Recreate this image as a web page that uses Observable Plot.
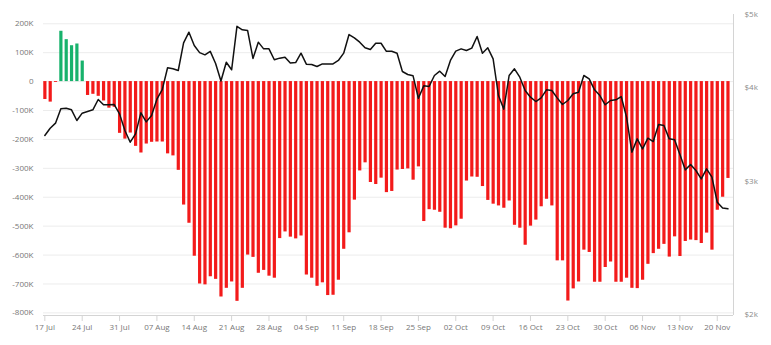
<!DOCTYPE html>
<html>
<head>
<meta charset="utf-8">
<script src="https://cdn.jsdelivr.net/npm/d3@7"></script>
<script src="https://cdn.jsdelivr.net/npm/@observablehq/plot@0.6"></script>
<style>
  html, body { margin: 0; padding: 0; background: #fff; }
  #chart svg { display: block; }
</style>
</head>
<body>
<div id="chart"></div>
<script>
// ---- data ----
const startDate = "2018-07-17";
// daily net flow, thousands
const flowK = [
  -62, -71, -3, 174, 145, 124, 130, 71, -48, -44,
  -51, -67, -92, -89, -179, -199, -178, -224, -247, -216,
  -210, -209, -209, -250, -257, -307, -427, -490, -604, -700,
  -703, -675, -684, -745, -715, -693, -760, -715, -600, -608,
  -663, -653, -673, -680, -543, -520, -538, -544, -534, -669,
  -680, -708, -696, -740, -739, -687, -580, -523, -410, -309,
  -281, -349, -356, -334, -384, -380, -306, -304, -302, -341,
  -295, -484, -443, -445, -452, -507, -509, -499, -476, -344,
  -330, -331, -363, -411, -424, -430, -438, -413, -497, -507,
  -566, -500, -479, -433, -407, -430, -620, -620, -759, -717,
  -693, -583, -591, -694, -694, -643, -624, -694, -694, -680,
  -715, -716, -687, -632, -595, -580, -563, -607, -537, -605,
  -553, -548, -550, -560, -524, -583, -445, -400, -335
];
// daily price, USD
const price = [
  3455, 3533, 3588, 3749, 3756, 3737, 3617, 3699, 3718, 3737,
  3857, 3795, 3795, 3798, 3691, 3508, 3385, 3473, 3703, 3602,
  3673, 3860, 3975, 4249, 4236, 4214, 4585, 4737, 4548, 4450,
  4420, 4468, 4305, 4080, 4322, 4223, 4822, 4771, 4761, 4372,
  4595, 4502, 4502, 4354, 4376, 4389, 4310, 4318, 4443, 4296,
  4292, 4266, 4300, 4300, 4300, 4345, 4443, 4703, 4656, 4595,
  4516, 4493, 4580, 4580, 4468, 4468, 4443, 4201, 4163, 4146,
  3872, 4021, 4013, 4150, 4205, 4137, 4345, 4470, 4502, 4479,
  4512, 4675, 4443, 4516, 4367, 3904, 3745, 4150, 4236, 4129,
  3964, 3884, 3833, 3876, 3972, 3964, 3876, 3798, 3845, 3924,
  3944, 4150, 4108, 3972, 3904, 3795, 3845, 3853, 3892, 3654,
  3284, 3420, 3317, 3427, 3392, 3573, 3562, 3420, 3410, 3260,
  3111, 3162, 3105, 3026, 3121, 3042, 2818, 2768, 2762
];
const xTickDates = [
  "2018-07-17", "2018-07-24", "2018-07-31", "2018-08-07", "2018-08-14",
  "2018-08-21", "2018-08-28", "2018-09-04", "2018-09-11", "2018-09-18",
  "2018-09-25", "2018-10-02", "2018-10-09", "2018-10-16", "2018-10-23",
  "2018-10-30", "2018-11-06", "2018-11-13", "2018-11-20"
];
const leftTicks = [200, 100, 0, -100, -200, -300, -400, -500, -600, -700, -800];
const priceTicks = [5000, 4000, 3000, 2000];
const priceTickLabels = ["$5k", "$4k", "$3k", "$2k"];

// ---- layout / style ----
const W = 771, H = 345;
const mTop = 14, mBottom = 30, mLeft = 43, mRight = 38;
const red = "#f31a1a", green = "#17b26c";
const DAY = 864e5;

const dates = d3.utcDay.range(new Date(startDate), d3.utcDay.offset(new Date(startDate), flowK.length));
const rows = flowK.map((v, i) => ({date: dates[i], flow: v, price: price[i]}));

const xDomain = [new Date(Date.UTC(2018, 6, 16, 18)), new Date(Date.UTC(2018, 10, 23, 1))];
const yDomain = [-809, 232];
const plotBottom = H - mBottom;
const pxToY = px => yDomain[0] + (plotBottom - px) / (plotBottom - mTop) * (yDomain[1] - yDomain[0]);
// secondary (log) price axis mapped onto the primary y scale
const priceScale = d3.scaleLog().domain([2000, 5000]).range([pxToY(314), pxToY(14)]);
const priceLabelByY = new Map(priceTicks.map((p, i) => [priceScale(p), priceTickLabels[i]]));

const half = 0.3 * DAY, shift = 0.1 * DAY;

const chart = Plot.plot({
  width: W,
  height: H,
  marginTop: mTop,
  marginBottom: mBottom,
  marginLeft: mLeft,
  marginRight: mRight,
  style: {fontFamily: "'Open Sans', sans-serif", fontSize: "8px", background: "#fff", color: "#777"},
  x: {type: "utc", domain: xDomain, axis: null, label: null},
  y: {domain: yDomain, axis: null, label: null},
  marks: [
    Plot.gridY(leftTicks, {stroke: "#ececec", strokeOpacity: 1}),
    Plot.rectY(rows, {
      x1: d => new Date(+d.date + shift - half),
      x2: d => new Date(+d.date + shift + half),
      y1: 0,
      y2: "flow",
      fill: d => d.flow >= 0 ? green : red
    }),
    Plot.line(rows, {x: "date", y: d => priceScale(d.price), stroke: "#111", strokeWidth: 1.5, curve: "linear"}),
    Plot.ruleY([yDomain[0]], {stroke: "#d4d4d4"}),
    Plot.ruleX([xDomain[1]], {stroke: "#d4d4d4"}),
    Plot.axisX(xTickDates.map(d => new Date(d)), {
      tickSize: 6, tickPadding: 3, stroke: "#d4d4d4", fill: "#777", label: null,
      tickFormat: d3.utcFormat("%d %b")
    }),
    Plot.axisY(leftTicks, {
      anchor: "left", tickSize: 0, tickPadding: 10, fill: "#777", label: null,
      tickFormat: v => v === 0 ? "0" : v + "K"
    }),
    Plot.axisY(priceTicks.map(p => priceScale(p)), {
      anchor: "right", tickSize: 0, tickPadding: 11, fill: "#8a8a8a", label: null,
      tickFormat: v => priceLabelByY.get(v)
    })
  ]
});
document.getElementById("chart").appendChild(chart);
</script>
</body>
</html>
